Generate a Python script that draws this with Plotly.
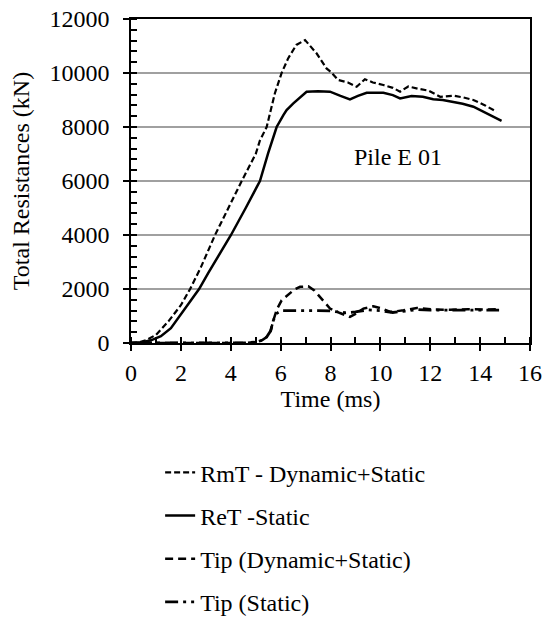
import plotly.graph_objects as go

# RmT - Dynamic+Static
t_rmt = [0, 0.3, 0.6, 1.0, 1.5, 2.0, 2.37, 2.8, 3.37, 3.9, 4.44, 5.0, 5.17, 5.44, 5.77,
         6.04, 6.3, 6.63, 6.98, 7.44, 7.84, 8.0, 8.31, 8.7, 9.05, 9.38, 9.7, 10.12, 10.5,
         10.79, 11.12, 11.5, 11.93, 12.4, 12.92, 13.3, 13.73, 14.2, 14.66]
v_rmt = [0, 20, 100, 300, 800, 1400, 2000, 2800, 4000, 5000, 6000, 7000, 7500, 8000, 9250,
         10000, 10540, 11040, 11220, 10730, 10170, 10050, 9740, 9650, 9490, 9770, 9650, 9555, 9450,
         9310, 9500, 9420, 9345, 9120, 9160, 9100, 9000, 8800, 8565]

# ReT - Static
t_ret = [0, 0.4, 0.8, 1.2, 1.6, 1.96, 2.35, 2.73, 3.1, 3.5, 4.01, 4.6, 5.17, 5.5, 5.77,
         5.84, 6.11, 6.24, 6.51, 7.04, 7.5, 7.98, 8.4, 8.78, 9.1, 9.45, 10.12, 10.5, 10.79,
         11.25, 11.7, 12.12, 12.5, 12.92, 13.3, 13.73, 14.3, 14.86]
v_ret = [0, 20, 100, 250, 550, 1000, 1500, 2000, 2600, 3200, 4000, 5000, 6000, 7030, 7760,
         8000, 8440, 8630, 8876, 9307, 9320, 9307, 9150, 9025, 9150, 9270, 9270, 9180, 9060,
         9150, 9120, 9025, 9000, 8940, 8860, 8750, 8500, 8230]

# Tip (Dynamic+Static)
t_tipd = [0, 1, 2, 3, 4, 4.6, 5.04, 5.25, 5.44, 5.6, 5.71, 5.85, 6.04, 6.3, 6.55, 6.78, 7.11,
          7.35, 7.58, 7.98, 8.38, 8.78, 9.05, 9.32, 9.72, 10.05, 10.4, 10.93, 11.46, 12.12,
          12.8, 13.5, 14.2, 14.76]
v_tipd = [0, 0, 0, 0, 0, 0, 40, 100, 222, 450, 840, 1250, 1580, 1800, 1980, 2080, 2100,
          1950, 1700, 1275, 1110, 965, 1100, 1275, 1360, 1280, 1150, 1210, 1300, 1240,
          1230, 1250, 1240, 1250]

# Tip (Static)
t_tips = [0, 1, 2, 3, 4, 4.6, 5.04, 5.25, 5.44, 5.6, 5.71, 5.85, 6.04, 6.5, 7.0, 7.5, 8.0,
          8.3, 8.6, 9.0, 9.5, 10.0, 10.5, 11.0, 11.5, 12.0, 13.0, 14.0, 14.76]
v_tips = [0, 0, 0, 0, 0, 0, 40, 100, 222, 450, 840, 1100, 1200, 1210, 1200, 1200, 1190,
          1150, 1120, 1150, 1230, 1200, 1130, 1180, 1240, 1220, 1210, 1220, 1220]

x_ticks = [0, 2, 4, 6, 8, 10, 12, 14, 16]
y_ticks = [0, 2000, 4000, 6000, 8000, 10000, 12000]

FONT = "Liberation Serif"
FS = 24

fig = go.Figure()
fig.add_trace(go.Scatter(x=t_rmt, y=v_rmt, mode="lines", name="RmT - Dynamic+Static",
                         legendgroup="a",
                         line=dict(color="black", width=2.2, dash="6px,3px")))
fig.add_trace(go.Scatter(x=t_ret, y=v_ret, mode="lines", name="ReT -Static",
                         legendgroup="b",
                         line=dict(color="black", width=2.5)))
fig.add_trace(go.Scatter(x=t_tipd, y=v_tipd, mode="lines", name="Tip (Dynamic+Static)",
                         legendgroup="c",
                         line=dict(color="black", width=2.5, dash="8px,5px")))
fig.add_trace(go.Scatter(x=t_tips, y=v_tips, mode="lines", name="Tip (Static)",
                         legendgroup="d",
                         line=dict(color="black", width=2.8, dash="13px,5px,3px,5px,3px,5px")))

fig.add_annotation(x=10.7, y=6900, text="Pile E 01", showarrow=False,
                   font=dict(family=FONT, size=FS, color="black"))

fig.update_layout(
    width=549, height=620,
    margin=dict(l=131, r=19, t=19, b=277, autoexpand=False),
    paper_bgcolor="white", plot_bgcolor="white",
    font=dict(family=FONT, size=FS, color="black"),
    showlegend=True,
    legend=dict(x=0.073, y=-0.331, xanchor="left", yanchor="top",
                font=dict(family=FONT, size=FS, color="black"),
                tracegroupgap=9, bgcolor="rgba(0,0,0,0)"),
    xaxis=dict(range=[0, 16], tickvals=x_ticks, ticktext=[str(v) for v in x_ticks],
               automargin=False, ticklabeloverflow="allow",
               showgrid=False, zeroline=False, showline=True, linecolor="black",
               linewidth=1.5, mirror=True, ticks="outside", ticklen=6, tickwidth=1.5,
               tickcolor="black", ticklabelstandoff=1,
               minor=dict(dtick=1, ticks="inside", ticklen=6, tickwidth=1.5,
                          tickcolor="black", showgrid=False),
               title=dict(text="Time (ms)", standoff=6,
                          font=dict(family=FONT, size=FS)),
               tickfont=dict(family=FONT, size=FS)),
    yaxis=dict(range=[0, 12000], tickvals=y_ticks, ticktext=[str(v) for v in y_ticks],
               automargin=False, ticklabeloverflow="allow",
               showgrid=True, gridcolor="#a0a0a0", gridwidth=1.5, zeroline=False,
               showline=True, linecolor="black", linewidth=1.5, mirror=True,
               ticks="outside", ticklen=6, tickwidth=1.5, tickcolor="black",
               ticklabelstandoff=9,
               minor=dict(dtick=400, ticks="inside", ticklen=6, tickwidth=1.5,
                          tickcolor="black", showgrid=False),
               title=dict(text="Total Resistances (kN)", standoff=13,
                          font=dict(family=FONT, size=FS)),
               tickfont=dict(family=FONT, size=FS)),
    xaxis2=dict(overlaying="x", anchor="y", side="bottom", range=[0, 16],
                tickvals=x_ticks, showticklabels=False, ticks="inside", ticklen=6,
                tickwidth=1.5, tickcolor="black", showgrid=False, zeroline=False,
                showline=False),
    yaxis2=dict(overlaying="y", anchor="x", side="left", range=[0, 12000],
                tickvals=y_ticks, showticklabels=False, ticks="inside", ticklen=6,
                tickwidth=1.5, tickcolor="black", showgrid=False, zeroline=False,
                showline=False),
)

# remove the default 8px page margin so the 549x620 figure fills the window exactly
fig.write_html("out.html", config={"displayModeBar": False},
               post_script="document.body.style.margin='0';document.body.style.overflow='hidden';")
